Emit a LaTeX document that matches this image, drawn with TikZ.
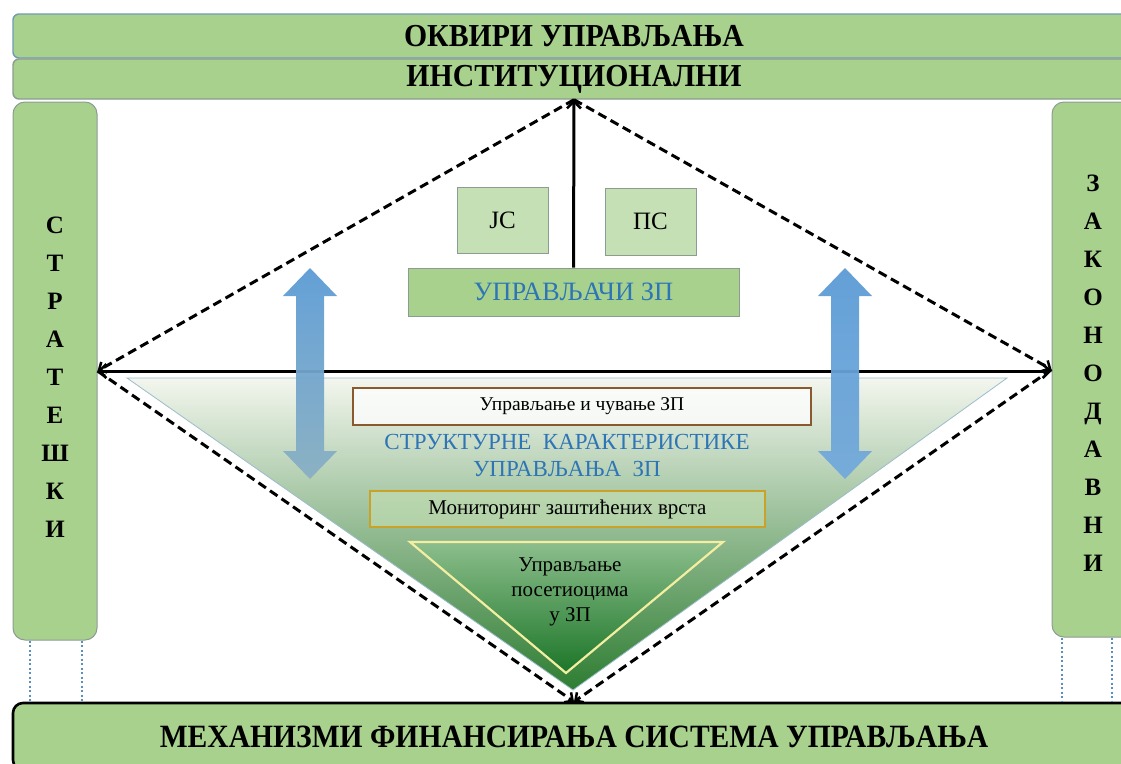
\documentclass[tikz,border=0pt]{standalone}
\usepackage{fontspec}
\setmainfont{Liberation Serif}
\newfontfamily\headf[FakeStretch=0.93]{Liberation Serif}
\newfontfamily\footf[FakeStretch=0.91]{Liberation Serif}
\usetikzlibrary{arrows.meta}
\definecolor{barfill}{HTML}{A9D18E}
\definecolor{boxfill}{HTML}{C5E0B4}
\definecolor{barline}{HTML}{6F9AB4}
\definecolor{sideline}{HTML}{8C9C92}
\definecolor{bluetxt}{HTML}{2E75B6}
\definecolor{arrblue}{HTML}{5B9BD5}
\definecolor{arrpale}{HTML}{8AB0C4}
\definecolor{brownln}{HTML}{8A5A2E}
\definecolor{goldln}{HTML}{C9A227}
\definecolor{yelln}{HTML}{F3EEA2}
\definecolor{dotblue}{HTML}{5B8FC0}
\definecolor{tritop}{HTML}{F3F6EE}
\definecolor{trimid}{HTML}{C4DAA4}
\definecolor{tribot}{HTML}{2E7D32}
\definecolor{itop}{HTML}{8CBE8C}
\definecolor{ibot}{HTML}{1C7628}
\definecolor{triedge}{HTML}{9CBCCC}
\tikzset{
  barbtip/.tip={Straight Barb[length=7pt,width=14pt,line width=2.5pt]},
  smallbarb/.tip={Straight Barb[length=6pt,width=12pt,line width=2.5pt]},
  bar/.style={draw=barline, line width=1.4pt, fill=barfill, rounded corners=6pt, inner sep=0pt, font=\headf\bfseries\fontsize{32}{32}\selectfont},
  sidebar/.style={draw=sideline, line width=1pt, fill=barfill, rounded corners=12pt, inner sep=0pt},
  vletters/.style={align=center, inner sep=0pt, font=\bfseries\fontsize{25}{38}\selectfont},
  smallbox/.style={draw=sideline, line width=0.8pt, fill=boxfill, inner sep=0pt, font=\fontsize{25}{25}\selectfont},
  dashln/.style={dash pattern=on 9pt off 5pt, line width=3pt, -smallbarb},
  solidln/.style={line width=3pt},
  dotln/.style={dotblue, line width=2pt, dash pattern=on 2pt off 2.5pt},
}
\begin{document}
\begin{tikzpicture}[x=1pt,y=-1pt]
\useasboundingbox (0,0) rectangle (1121,763);
% top bars
\node[bar, minimum width=1122pt, minimum height=44pt] (okv) at (574,36) {ОКВИРИ УПРАВЉАЊА};
\node[bar, draw=sideline, minimum width=1122pt, minimum height=40pt] (inst) at (574,79) {ИНСТИТУЦИОНАЛНИ};
% side bars
\node[sidebar, minimum width=84pt, minimum height=538pt] (lbar) at (55,371) {};
\node[vletters] (ltxt) at (55,377) {С\\Т\\Р\\А\\Т\\Е\\Ш\\К\\И};
\node[sidebar, minimum width=88pt, minimum height=535pt] (rbar) at (1096,369.5) {};
\node[vletters] (rtxt) at (1093,373) {З\\А\\К\\О\\Н\\О\\Д\\А\\В\\Н\\И};
% bottom bar
\node[bar, draw=black, line width=2.6pt, rounded corners=10pt, minimum width=1122pt, minimum height=67pt, font=\footf\bfseries\fontsize{32.5}{32.5}\selectfont] (fin) at (574,736.5) {МЕХАНИЗМИ ФИНАНСИРАЊА СИСТЕМА УПРАВЉАЊА};
% dotted lines
\draw[dotln] ([xshift=17pt]lbar.south west) -- ([xshift=17pt]lbar.south west |- fin.north);
\draw[dotln] ([xshift=69pt]lbar.south west) -- ([xshift=69pt]lbar.south west |- fin.north);
\draw[dotln] ([xshift=10pt]rbar.south west) -- ([xshift=10pt]rbar.south west |- fin.north);
\draw[dotln] ([xshift=60pt]rbar.south west) -- ([xshift=60pt]rbar.south west |- fin.north);
% big gradient triangle
\shade[top color=tritop, middle color=trimid, bottom color=tribot, draw=triedge, line width=0.8pt]
  (127,378) -- (1007,378) -- (573,690) -- cycle;
% inner triangle
\shade[top color=itop, bottom color=ibot, draw=yelln, line width=2.2pt]
  (410,542) -- (723,542) -- (566,673) -- cycle;
% boxes
\node[smallbox, minimum width=91pt, minimum height=66pt] (js) at (502.5,220) {ЈС};
\node[smallbox, minimum width=91pt, minimum height=67pt] (ps) at (650.5,221.5) {ПС};
\node[smallbox, fill=barfill, minimum width=331pt, minimum height=48pt, text=bluetxt, font=\fontsize{26.5}{26.5}\selectfont] (upr) at (573.5,292) {УПРАВЉАЧИ ЗП};
\node[draw=brownln, line width=2.2pt, fill=white, fill opacity=0.75, text opacity=1, minimum width=458pt, minimum height=37pt, inner sep=0pt, font=\fontsize{19.5}{19.5}\selectfont] (uch) at (582,406.5) {Управљање и чување ЗП};
\node[align=center, text=bluetxt, inner sep=0pt, font=\fontsize{23}{27}\selectfont] (str) at (567,455) {СТРУКТУРНЕ\ \ КАРАКТЕРИСТИКЕ\\УПРАВЉАЊА\ \ ЗП};
\node[draw=goldln, line width=2.2pt, fill=boxfill, fill opacity=0.6, text opacity=1, minimum width=395pt, minimum height=36pt, inner sep=0pt, font=\fontsize{21}{21}\selectfont] (mon) at (567.5,509) {Мониторинг заштићених врста};
\node[align=center, inner sep=0pt, font=\fontsize{21}{25}\selectfont] (pos) at (570,592) {Управљање\\посетиоцима\\у ЗП};
% connectors
\draw[dashln] (inst.south) -- (lbar.east);
\draw[dashln] (inst.south) -- (rbar.west);
\draw[dashln] (lbar.east) -- (fin.north);
\draw[dashln] (rbar.west) -- (fin.north);
\draw[solidln, -barbtip] (upr.north) -- (inst.south);
\draw[solidln, barbtip-barbtip] (lbar.east) -- (lbar.east -| rbar.west);
% blue double arrows
\shade[top color=arrblue, bottom color=arrpale, opacity=0.95]
  (310,268) -- (337,296) -- (324,296) -- (324,451) -- (337,451) -- (310,479) -- (283,451) -- (296,451) -- (296,296) -- (283,296) -- cycle;
\shade[top color=arrblue, bottom color=arrblue!85!white, opacity=0.95]
  (845,268) -- (872,296) -- (859,296) -- (859,451) -- (872,451) -- (845,479) -- (818,451) -- (831,451) -- (831,296) -- (818,296) -- cycle;
\end{tikzpicture}
\end{document}
